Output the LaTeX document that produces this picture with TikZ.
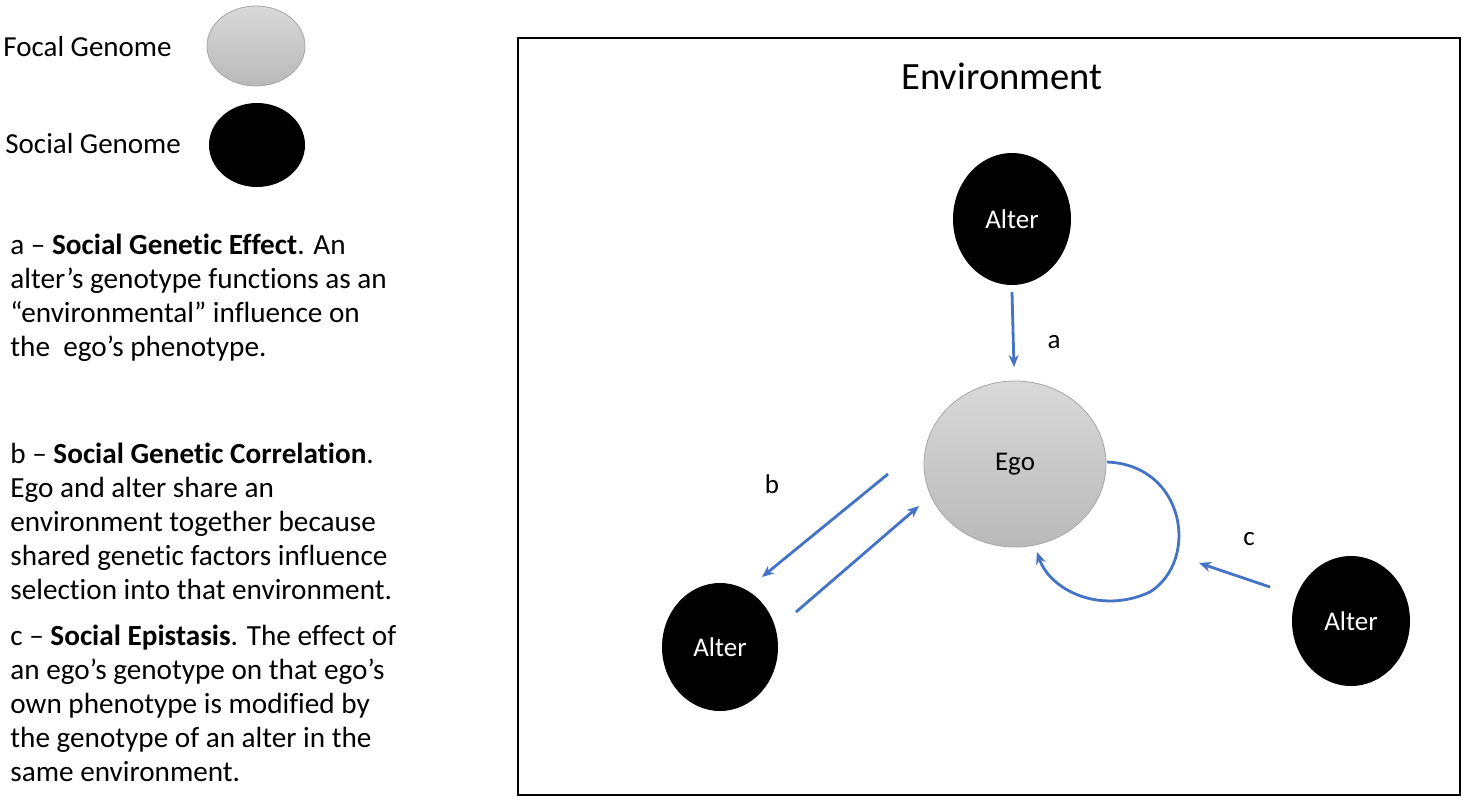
\documentclass[tikz,border=0pt]{standalone}
\usepackage{fontspec}
\setmainfont{Carlito}[Ligatures={NoCommon}]
\usetikzlibrary{arrows.meta}
\begin{document}
\begin{tikzpicture}[x=0.5pt,y=-0.5pt,
  soc/.style={fill=black},
  foc/.style={top color=gray!30,bottom color=gray!55,draw=gray!70,line width=0.4pt},
  lab/.style={font=\fontsize{13.5}{15}\selectfont},
  arr/.style={draw={rgb,255:red,68;green,114;blue,196},line width=1.4pt,-{Stealth[length=6pt,width=5pt]}},
  para/.style={anchor=west,align=left,font=\fontsize{14.6}{17}\selectfont,inner sep=0pt}]
\useasboundingbox (0,0) rectangle (1464,800);
% legend
\node[lab,font=\fontsize{14.5}{16}\selectfont,anchor=west,inner sep=0pt] (lf) at (3,47) {Focal Genome};
\path[foc] (256,46) ellipse [x radius=49,y radius=40];
\node (lfe) at (256,46) {};
\node[lab,font=\fontsize{14.5}{16}\selectfont,anchor=west,inner sep=0pt] (ls) at (5,144) {Social Genome};
\path[soc] (257,145) ellipse [x radius=48,y radius=42];
\node (lse) at (257,145) {};
\node[para] (pa) at (10,298) {a -- \textbf{Social Genetic Effect}. An\\alter’s genotype functions as an\\“environmental” influence on\\the\ \ ego’s phenotype.};
\node[para] (pb) at (10,521) {b -- \textbf{Social Genetic Correlation}.\\Ego and alter share an\\environment together because\\shared genetic factors influence\\selection into that environment.};
\node[para] (pc) at (10,703) {c -- \textbf{Social Epistasis}. The effect of\\an ego’s genotype on that ego’s\\own phenotype is modified by\\the genotype of an alter in the\\same environment.};
% box
\draw[line width=0.8pt] (518,38) rectangle (1460,795);
\node[font=\fontsize{19.3}{22}\selectfont] (env) at (1002,76) {Environment};
% nodes
\path[soc] (1012,219) ellipse [x radius=59,y radius=66];
\node[lab,text=white] (at) at (1012,219) {Alter};
\path[foc] (1015,464) ellipse [x radius=91,y radius=83];
\node[lab] (ego) at (1015,464) {Ego};
\path[soc] (720,647) ellipse [x radius=58,y radius=64];
\node[lab,text=white] (al) at (720,647) {Alter};
\path[soc] (1351,621) ellipse [x radius=59,y radius=65];
\node[lab,text=white] (ar) at (1351,621) {Alter};
% connectors
\coordinate (a1) at (1012,292); \coordinate (a2) at (1014,367);
\draw[arr] (a1) -- (a2);
\node[lab] (la) at (1054,342) {a};
\coordinate (b1) at (888,474); \coordinate (b2) at (762,577);
\coordinate (b3) at (796,612); \coordinate (b4) at (919,506);
\draw[arr] (b1) -- (b2);
\draw[arr] (b3) -- (b4);
\node[lab] (lb) at (772,484) {b};
\coordinate (c1) at (1270,587); \coordinate (c2) at (1199,563);
\draw[arr] (c1) -- (c2);
\node[lab] (lc) at (1249,539) {c};
\coordinate (l1) at (1107,462); \coordinate (l2) at (1037,552);
\draw[arr] (l1) .. controls (1185,465) and (1200,560) .. (1150,592) .. controls (1100,615) and (1050,590) .. (l2);
\end{tikzpicture}
\end{document}
